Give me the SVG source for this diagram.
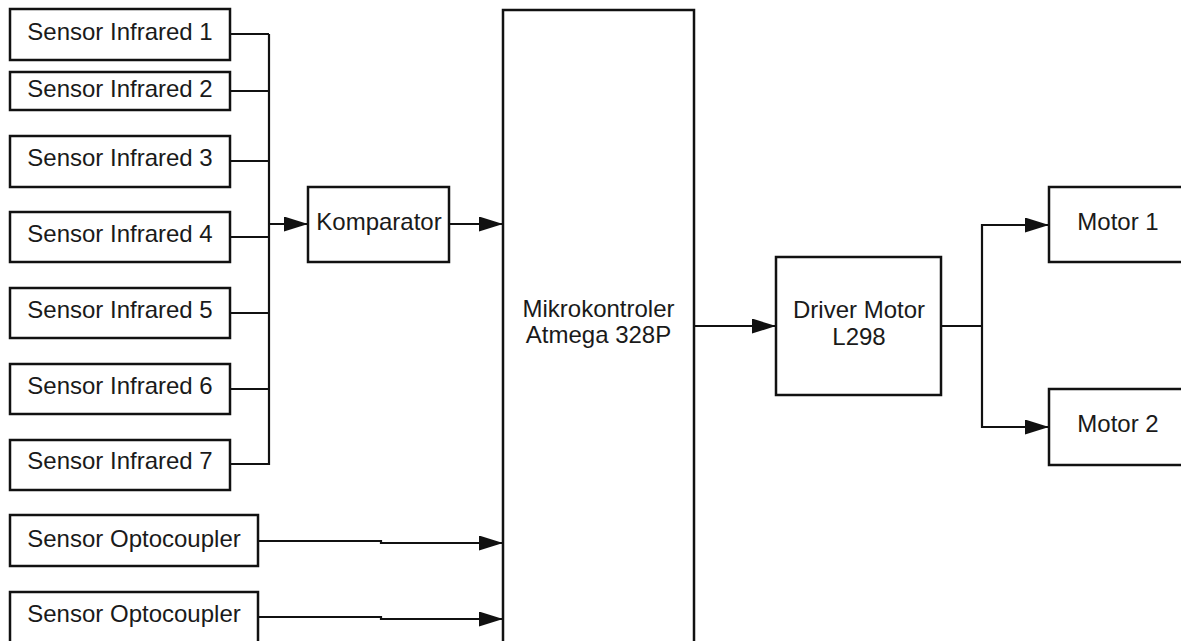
<svg xmlns="http://www.w3.org/2000/svg" width="1181" height="641" viewBox="0 0 1181 641">
<style>
.box{fill:#fff;stroke:#111;stroke-width:2.5}
.t{font-family:"Liberation Sans",Arial,sans-serif;font-size:24px;fill:#1a1a1a;text-anchor:middle}
.c{fill:none;stroke:#111;stroke-width:2.2}
</style>
<defs>
<marker id="ah" markerUnits="userSpaceOnUse" markerWidth="26" markerHeight="16" refX="24" refY="7.5" orient="auto">
<path d="M0,0 L24,7.5 L0,15 Z" fill="#111"/>
</marker>
</defs>
<rect width="1181" height="641" fill="#fff"/>
<g id="ir1"><rect class="box" x="10" y="9" width="220" height="51"/><text class="t" x="120" y="40">Sensor Infrared 1</text></g>
<g id="ir2"><rect class="box" x="10" y="72" width="220" height="38"/><text class="t" x="120" y="97">Sensor Infrared 2</text></g>
<g id="ir3"><rect class="box" x="10" y="136" width="220" height="51"/><text class="t" x="120" y="166">Sensor Infrared 3</text></g>
<g id="ir4"><rect class="box" x="10" y="212" width="220" height="50"/><text class="t" x="120" y="242">Sensor Infrared 4</text></g>
<g id="ir5"><rect class="box" x="10" y="288" width="220" height="50"/><text class="t" x="120" y="318">Sensor Infrared 5</text></g>
<g id="ir6"><rect class="box" x="10" y="364" width="220" height="50"/><text class="t" x="120" y="394">Sensor Infrared 6</text></g>
<g id="ir7"><rect class="box" x="10" y="440" width="220" height="50"/><text class="t" x="120" y="469">Sensor Infrared 7</text></g>
<g id="opto1"><rect class="box" x="10" y="515" width="248" height="51"/><text class="t" x="134" y="547">Sensor Optocoupler</text></g>
<g id="opto2"><rect class="box" x="10" y="592" width="248" height="60"/><text class="t" x="134" y="622">Sensor Optocoupler</text></g>
<g id="komparator"><rect class="box" x="308" y="187" width="141" height="75"/><text class="t" x="379" y="230">Komparator</text></g>
<g id="mikro"><rect class="box" x="503" y="10" width="191" height="650"/><text class="t" x="598.5" y="317">Mikrokontroler</text><text class="t" x="598.5" y="343">Atmega 328P</text></g>
<g id="driver"><rect class="box" x="776" y="257" width="165" height="138"/><text class="t" x="859" y="318">Driver Motor</text><text class="t" x="859" y="345">L298</text></g>
<g id="motor1"><rect class="box" x="1049" y="187" width="150" height="75"/><text class="t" x="1118" y="230">Motor 1</text></g>
<g id="motor2"><rect class="box" x="1049" y="389" width="150" height="76"/><text class="t" x="1118" y="432">Motor 2</text></g>
<g id="connectors">
<path class="c" d="M230,34 H269 M230,91 H269 M230,161 H269 M230,237 H269 M230,313 H269 M230,389 H269 M230,464 H269 M269,34 V465"/>
<path class="c" d="M269,224 H308" marker-end="url(#ah)"/>
<path class="c" d="M449,224 H503" marker-end="url(#ah)"/>
<path class="c" d="M258,541 H381 V543 H503" marker-end="url(#ah)"/>
<path class="c" d="M258,617 H381 V619 H503" marker-end="url(#ah)"/>
<path class="c" d="M694,326 H776" marker-end="url(#ah)"/>
<path class="c" d="M941,326 H982"/>
<path class="c" d="M982,326 V225 H1049" marker-end="url(#ah)"/>
<path class="c" d="M982,326 V427 H1049" marker-end="url(#ah)"/>
</g>
</svg>
